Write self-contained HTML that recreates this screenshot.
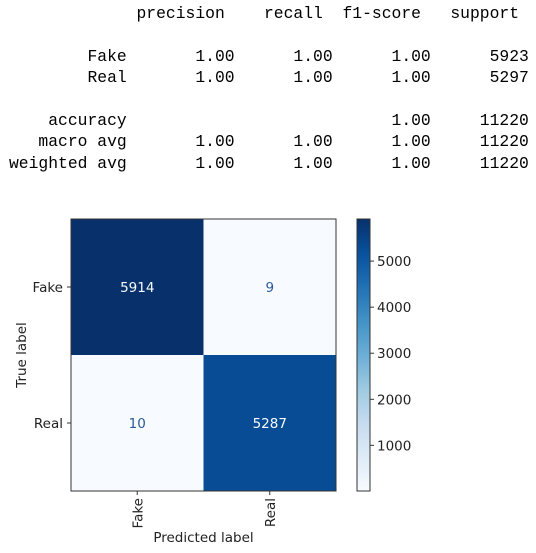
<!DOCTYPE html>
<html><head><meta charset="utf-8">
<style>
html,body{margin:0;padding:0;background:#fff;width:536px;height:553px;overflow:hidden;}
#report{position:absolute;left:9px;top:3px;margin:0;font-family:"Liberation Mono",monospace;font-size:16.35px;line-height:21.4px;color:#000;white-space:pre;}
svg{position:absolute;left:0;top:0;}
</style></head><body>
<pre id="report">             precision    recall  f1-score   support

        Fake       1.00      1.00      1.00      5923
        Real       1.00      1.00      1.00      5297

    accuracy                           1.00     11220
   macro avg       1.00      1.00      1.00     11220
weighted avg       1.00      1.00      1.00     11220</pre>
<svg id="chart" width="536" height="553" font-family="DejaVu Sans, Liberation Sans, sans-serif"></svg>
<script>
const classes = ["Fake","Real"];
const matrixValues = [[5914,9],[10,5287]];
const cbTicks = [1000,2000,3000,4000,5000];

const NS="http://www.w3.org/2000/svg";
const svg=document.getElementById('chart');
function mk(t,a,p){const e=document.createElementNS(NS,t);for(const k in a)e.setAttribute(k,a[k]);(p||svg).appendChild(e);return e;}
const L=71,R=336,T=219,B=491,FS='13.5';
const flat=matrixValues.flat();
const vmin=Math.min(...flat),vmax=Math.max(...flat);
const stops=[[247,251,255],[222,235,247],[198,219,239],[158,202,225],[107,174,214],[66,146,198],[33,113,181],[8,81,156],[8,48,107]];
function cmap(v){let t=(v-vmin)/(vmax-vmin);t=Math.max(0,Math.min(1,t));const f=t*(stops.length-1);const i=Math.min(Math.floor(f),stops.length-2);const r=f-i;const c=stops[i].map((a,j)=>Math.round(a+(stops[i+1][j]-a)*r));return `rgb(${c[0]},${c[1]},${c[2]})`;}
const n=classes.length,cw=(R-L)/n,ch=(B-T)/n;
const xc=j=>L+cw*(j+0.5), yc=i=>T+ch*(i+0.5);
for(let i=0;i<n;i++)for(let j=0;j<n;j++){
  const v=matrixValues[i][j];
  const r=mk('rect',{x:L+cw*j,y:T+ch*i,width:cw,height:ch,fill:cmap(v)});
  
  
  const dark=(v-vmin)/(vmax-vmin)>0.5;
  const t=mk('text',{x:xc(j),y:yc(i)+5,'text-anchor':'middle','font-size':FS,fill:dark?'#f7fbff':'#2a5a9a'});
  t.textContent=v;
  
  
}
const frame=mk('rect',{x:L,y:T,width:R-L,height:B-T,fill:'none',stroke:'#333','stroke-width':1});


classes.forEach((c,i)=>{
  mk('line',{x1:L-4,x2:L,y1:yc(i),y2:yc(i),stroke:'#333'});
  const t=mk('text',{x:L-8,y:yc(i)+5,'text-anchor':'end','font-size':FS,fill:'#222'});t.textContent=c;
  
  
  mk('line',{x1:xc(i),x2:xc(i),y1:B,y2:B+4,stroke:'#333'});
  const x=mk('text',{x:0,y:0,'text-anchor':'end','font-size':FS,fill:'#222',transform:`translate(${xc(i)+5},${B+7}) rotate(-90)`});x.textContent=c;
  
  
});
const yt=mk('text',{x:0,y:0,'text-anchor':'middle','font-size':FS,fill:'#222',transform:`translate(26,${(T+B)/2}) rotate(-90)`});yt.textContent='True label';


const xt=mk('text',{x:(L+R)/2,y:542,'text-anchor':'middle','font-size':FS,fill:'#222'});xt.textContent='Predicted label';


const CL=357,CR=370;
const defs=mk('defs',{});
const g=mk('linearGradient',{id:'cb',x1:0,y1:1,x2:0,y2:0},defs);
stops.forEach((s,i)=>mk('stop',{offset:i/(stops.length-1),'stop-color':`rgb(${s})`},g));
const cb=mk('rect',{x:CL,y:T,width:CR-CL,height:B-T,fill:'url(#cb)',stroke:'#333','stroke-width':1});


const cy=v=>B-(v-vmin)/(vmax-vmin)*(B-T);
cbTicks.forEach(v=>{
  mk('line',{x1:CR,x2:CR+4,y1:cy(v),y2:cy(v),stroke:'#333'});
  const t=mk('text',{x:CR+7,y:cy(v)+5,'font-size':FS,fill:'#222'});t.textContent=v;
  
  
});
</script>
</body></html>
